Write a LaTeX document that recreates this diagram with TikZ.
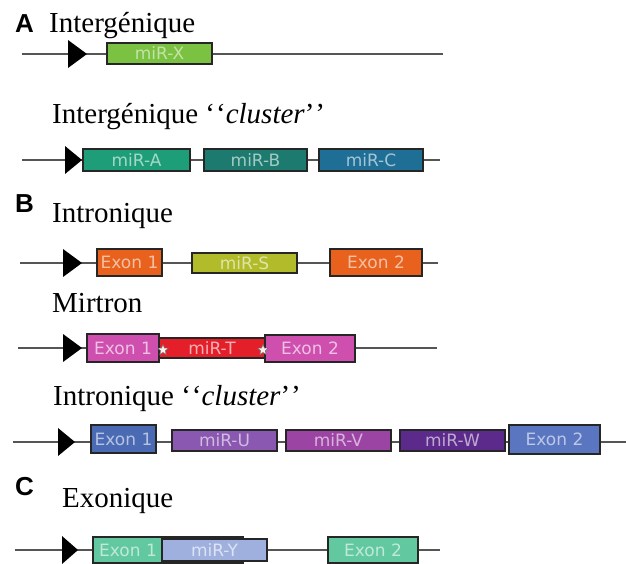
\documentclass[tikz,border=0pt]{standalone}
\usepackage{fontspec}
\setmainfont{Liberation Serif}
\newfontfamily\panelfont{Liberation Sans}
\newfontfamily\boxfamily{DejaVu Sans}
\usetikzlibrary{shapes.geometric}
\definecolor{cX}{HTML}{7CC242}
\definecolor{cA}{HTML}{1E9E78}
\definecolor{cB}{HTML}{1C7A6E}
\definecolor{cC}{HTML}{1F6E96}
\definecolor{cExO}{HTML}{E8621E}
\definecolor{cS}{HTML}{B2BC2A}
\definecolor{cExM}{HTML}{CF4FAE}
\definecolor{cT}{HTML}{E41F2A}
\definecolor{cExB}{HTML}{4A6AB4}
\definecolor{cExB2}{HTML}{5A76C0}
\definecolor{cU}{HTML}{8A58B0}
\definecolor{cV}{HTML}{9C44A4}
\definecolor{cW}{HTML}{5C2A8A}
\definecolor{cExG}{HTML}{62C8A0}
\definecolor{cY}{HTML}{9FB0DE}
\definecolor{dna}{HTML}{555555}
\newcommand\oq{\textquoteleft\kern1pt\textquoteleft}
\newcommand\cq{\textquoteright\kern1pt\textquoteright}
\newcommand\dnarow[6]{%
  \coordinate (#1s) at (#3,#2);
  \coordinate (#1e) at (#4,#2);
  \draw[dnaline] (#1s) -- (#1e);
  \fill[promo] (#5,#2-14) -- (#6,#2) -- (#5,#2+14) -- cycle;}
\newcommand\gbox[8]{%
  \node[gbox, fill=#6, text=#7, minimum width=#3-#2, minimum height=#5-#4]
    (#1) at ({(#2+#3)/2},{(#4+#5)/2}) {#8};}
\begin{document}
\begin{tikzpicture}[x=1pt,y=-1pt,
  title/.style={anchor=base west, inner sep=0pt, font=\fontsize{29pt}{29pt}\selectfont},
  panel/.style={anchor=base west, inner sep=0pt, font=\panelfont\bfseries\fontsize{26pt}{26pt}\selectfont},
  dnaline/.style={draw=dna, line width=1.5pt},
  promo/.style={fill=black},
  gbox/.style={draw=black!85, line width=1.1pt, inner sep=0pt, outer sep=0pt,
    font=\boxfamily\fontsize{17pt}{17pt}\selectfont},
  starmark/.style={star, star points=5, star point ratio=2.3, minimum size=11pt,
    inner sep=0pt, fill=pink!25, draw=black!55, line width=0.5pt}]
\useasboundingbox (0,0) rectangle (626,563);
\fill[white] (0,0) rectangle (626,563);

% Panel A
\node[panel] (pA) at (15,32) {A};
\node[title] (tA1) at (49,32) {Intergénique};
\dnarow{rA}{54}{22}{443}{68}{87}
\gbox{mX}{107}{212}{43}{64}{cX}{cX!45!white}{miR-X}

\node[title] (tA2) at (52,123) {Intergénique \oq\textit{cluster}\cq};
\dnarow{rAA}{160}{22}{440}{65}{82}
\gbox{mA}{83}{190}{149}{171}{cA}{cA!40!white}{miR-A}
\gbox{mB}{204}{307}{149}{171}{cB}{cB!40!white}{miR-B}
\gbox{mC}{319}{423}{149}{171}{cC}{cC!40!white}{miR-C}

% Panel B
\node[panel] (pB) at (15,212) {B};
\node[title] (tB1) at (52,222) {Intronique};
\dnarow{rB}{263}{20}{438}{63}{82}
\gbox{bE1}{97}{162}{249}{276}{cExO}{cExO!40!white}{Exon 1}
\gbox{mS}{192}{297}{253}{273}{cS}{cS!40!white}{miR-S}
\gbox{bE2}{330}{422}{249}{276}{cExO}{cExO!40!white}{Exon 2}

\node[title] (tB2) at (52,312) {Mirtron};
\dnarow{rM}{348}{18}{437}{63}{82}
\gbox{mT}{157}{267}{338}{358}{cT}{cT!35!white}{miR-T}
\gbox{tE1}{87}{159}{334}{362}{cExM}{cExM!35!white}{Exon 1}
\gbox{tE2}{265}{355}{335}{362}{cExM}{cExM!35!white}{Exon 2}
\node[starmark] (st1) at (163,350) {};
\node[starmark] (st2) at (263,350) {};

\node[title] (tB3) at (53,405) {Intronique \oq\textit{cluster}\cq};
\dnarow{rBC}{442}{13}{626}{58}{75}
\gbox{cE1}{91}{156}{425}{453}{cExB}{cExB!40!white}{Exon 1}
\gbox{mU}{172}{277}{430}{451}{cU}{cU!40!white}{miR-U}
\gbox{mV}{286}{391}{430}{451}{cV}{cV!40!white}{miR-V}
\gbox{mW}{400}{505}{430}{451}{cW}{cW!40!white}{miR-W}
\gbox{cE2}{509}{600}{425}{454}{cExB2}{cExB2!40!white}{Exon 2}

% Panel C
\node[panel] (pC) at (15,495) {C};
\node[title] (tC) at (62,507) {Exonique};
\dnarow{rC}{550}{15}{440}{62}{78}
\gbox{xE1}{93}{243}{537}{563}{cExG}{cExG!40!white}{\hspace*{-80pt}Exon 1}
\gbox{mY}{162}{267}{539}{561}{cY}{cY!35!white}{miR-Y}
\gbox{xE2}{328}{418}{537}{563}{cExG}{cExG!40!white}{Exon 2}
\end{tikzpicture}
\end{document}
